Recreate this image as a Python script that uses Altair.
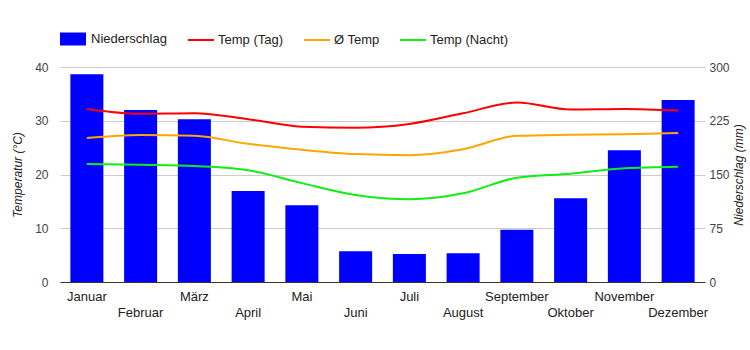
import json
import altair as alt
import pandas as pd

months = ["Januar", "Februar", "März", "April", "Mai", "Juni", "Juli",
          "August", "September", "Oktober", "November", "Dezember"]
precip = [290, 240, 227, 127, 107, 43, 39, 40, 73, 117, 184, 254]
temp_day = [32.2, 31.3, 31.4, 30.3, 28.9, 28.7, 29.4, 31.4, 33.4, 32.1, 32.2, 31.9]
temp_avg = [26.8, 27.35, 27.2, 25.7, 24.6, 23.8, 23.6, 24.7, 27.2, 27.4, 27.5, 27.7]
temp_night = [21.95, 21.8, 21.6, 20.8, 18.4, 16.2, 15.4, 16.5, 19.4, 20.15, 21.15, 21.45]

bar_name = "Niederschlag"
line_names = ["Temp (Tag)", "Ø Temp", "Temp (Nacht)"]
line_colors = ["#ff0000", "#ffa500", "#11ee11"]
bar_color = "#0000ff"

FONT = "Liberation Sans"
TXT = "#222222"

bars_df = pd.DataFrame({"Monat": months, "Serie": bar_name, "mm": precip})
lines_df = pd.concat([
    pd.DataFrame({"Monat": months, "Serie": name, "temp": vals})
    for name, vals in zip(line_names, [temp_day, temp_avg, temp_night])
], ignore_index=True)

second_row = json.dumps(months[1::2])
label_expr = f"indexof({second_row}, datum.label) >= 0 ? ['', datum.label] : datum.label"

x_enc = alt.X(
    "Monat:N", sort=months,
    scale=alt.Scale(paddingInner=0.386, paddingOuter=0.193),
    axis=alt.Axis(title=None, labelExpr=label_expr, labelAngle=0, ticks=False,
                  domainColor="#333333", domainWidth=1, labelPadding=8,
                  labelLineHeight=16, labelFont=FONT, labelFontSize=13,
                  labelColor=TXT, labelLimit=0, zindex=1),
)

bars = alt.Chart(bars_df).mark_bar().encode(
    x=x_enc,
    y=alt.Y("mm:Q", scale=alt.Scale(domain=[0, 300]),
            axis=alt.Axis(orient="right", title="Niederschlag (mm)", values=[0, 75, 150, 225, 300],
                          grid=False, domain=False, ticks=False, labelPadding=4,
                          labelFont=FONT, labelFontSize=12, labelColor="#444444",
                          titleFont=FONT, titleFontSize=12, titleFontStyle="italic",
                          titleFontWeight="normal", titleColor=TXT, titleAngle=270,
                          titlePadding=16)),
    fill=alt.Fill("Serie:N", scale=alt.Scale(domain=[bar_name], range=[bar_color]),
                  legend=alt.Legend(title=None, orient="none", legendX=0, legendY=-41,
                                    symbolType="M-1,-0.5H1V0.5H-1Z", symbolSize=676,
                                    symbolStrokeWidth=0, labelOffset=5, padding=0,
                                    labelFont=FONT, labelFontSize=13, labelColor=TXT)),
)

lines = alt.Chart(lines_df).mark_line(strokeWidth=2, interpolate="monotone").encode(
    x=x_enc,
    y=alt.Y("temp:Q", scale=alt.Scale(domain=[0, 40]),
            axis=alt.Axis(title="Temperatur (°C)", values=[0, 10, 20, 30, 40], grid=True,
                          gridColor="#cccccc", domain=False, ticks=False, labelPadding=12,
                          labelFont=FONT, labelFontSize=12, labelColor="#444444",
                          titleFont=FONT, titleFontSize=12, titleFontStyle="italic",
                          titleFontWeight="normal", titleColor=TXT, titlePadding=10)),
    stroke=alt.Stroke("Serie:N", sort=line_names,
                      scale=alt.Scale(domain=line_names, range=line_colors),
                      legend=alt.Legend(title=None, orient="none", legendX=127, legendY=-41,
                                        direction="horizontal", symbolType="stroke",
                                        symbolSize=676, symbolStrokeWidth=2, labelOffset=3,
                                        columnPadding=16, padding=0,
                                        labelFont=FONT, labelFontSize=13, labelColor=TXT)),
)

chart = alt.layer(bars, lines).resolve_scale(y="independent", fill="independent", stroke="independent").properties(
    width=645, height=215,
    autosize=alt.AutoSizeParams(type="none"),
    padding={"left": 60, "top": 67, "right": 45, "bottom": 68},
    background="white",
).configure_view(strokeWidth=0)

chart.save("out.html", embed_options={"renderer": "svg", "actions": False})
